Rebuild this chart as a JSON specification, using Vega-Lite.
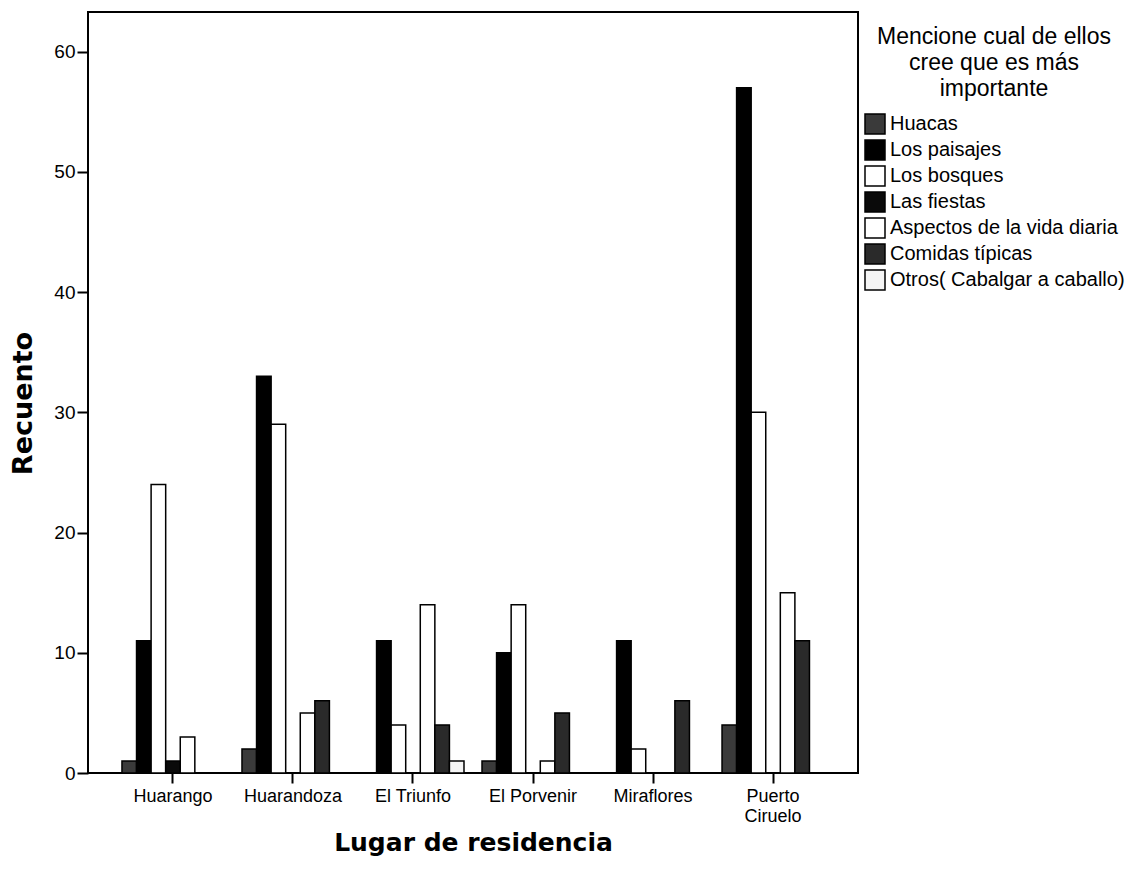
{
  "$schema": "https://vega.github.io/schema/vega-lite/v6.json",
  "width": 770,
  "height": 761,
  "autosize": {"type": "none"},
  "padding": {"left": 88, "top": 12, "right": 275, "bottom": 102},
  "background": "white",
  "config": {
    "view": {"stroke": "black", "strokeWidth": 2},
    "font": "Liberation Sans"
  },
  "data": {
    "values": [
      {"lugar": "Huarango", "cat": "Huacas", "n": 1},
      {"lugar": "Huarango", "cat": "Los paisajes", "n": 11},
      {"lugar": "Huarango", "cat": "Los bosques", "n": 24},
      {"lugar": "Huarango", "cat": "Las fiestas", "n": 1},
      {"lugar": "Huarango", "cat": "Aspectos de la vida diaria", "n": 3},
      {"lugar": "Huarandoza", "cat": "Huacas", "n": 2},
      {"lugar": "Huarandoza", "cat": "Los paisajes", "n": 33},
      {"lugar": "Huarandoza", "cat": "Los bosques", "n": 29},
      {"lugar": "Huarandoza", "cat": "Aspectos de la vida diaria", "n": 5},
      {"lugar": "Huarandoza", "cat": "Comidas típicas", "n": 6},
      {"lugar": "El Triunfo", "cat": "Los paisajes", "n": 11},
      {"lugar": "El Triunfo", "cat": "Los bosques", "n": 4},
      {"lugar": "El Triunfo", "cat": "Aspectos de la vida diaria", "n": 14},
      {"lugar": "El Triunfo", "cat": "Comidas típicas", "n": 4},
      {"lugar": "El Triunfo", "cat": "Otros( Cabalgar a caballo)", "n": 1},
      {"lugar": "El Porvenir", "cat": "Huacas", "n": 1},
      {"lugar": "El Porvenir", "cat": "Los paisajes", "n": 10},
      {"lugar": "El Porvenir", "cat": "Los bosques", "n": 14},
      {"lugar": "El Porvenir", "cat": "Aspectos de la vida diaria", "n": 1},
      {"lugar": "El Porvenir", "cat": "Comidas típicas", "n": 5},
      {"lugar": "Miraflores", "cat": "Los paisajes", "n": 11},
      {"lugar": "Miraflores", "cat": "Los bosques", "n": 2},
      {"lugar": "Miraflores", "cat": "Comidas típicas", "n": 6},
      {"lugar": "Puerto Ciruelo", "cat": "Huacas", "n": 4},
      {"lugar": "Puerto Ciruelo", "cat": "Los paisajes", "n": 57},
      {"lugar": "Puerto Ciruelo", "cat": "Los bosques", "n": 30},
      {"lugar": "Puerto Ciruelo", "cat": "Aspectos de la vida diaria", "n": 15},
      {"lugar": "Puerto Ciruelo", "cat": "Comidas típicas", "n": 11}
    ]
  },
  "mark": {"type": "bar", "stroke": "black", "strokeWidth": 1.5},
  "encoding": {
    "x": {
      "field": "lugar",
      "type": "nominal",
      "sort": ["Huarango", "Huarandoza", "El Triunfo", "El Porvenir", "Miraflores", "Puerto Ciruelo"],
      "scale": {"paddingInner": 0.15, "paddingOuter": 0.283},
      "axis": {
        "title": "Lugar de residencia",
        "titleFont": "DejaVu Sans",
        "titleFontWeight": "bold",
        "titleFontSize": 25,
        "titleColor": "black",
        "titlePadding": 5,
        "labelAngle": 0,
        "labelFontSize": 18,
        "labelColor": "black",
        "labelPadding": 4,
        "labelLineHeight": 20,
        "labelExpr": "datum.label == 'Puerto Ciruelo' ? ['Puerto', 'Ciruelo'] : datum.label",
        "tickColor": "black",
        "tickSize": 10,
        "tickWidth": 2,
        "domain": false
      }
    },
    "xOffset": {
      "field": "cat",
      "type": "nominal",
      "scale": {
        "domain": ["Huacas", "Los paisajes", "Los bosques", "Las fiestas", "Aspectos de la vida diaria", "Comidas típicas", "Otros( Cabalgar a caballo)"],
        "paddingInner": 0,
        "paddingOuter": 0
      }
    },
    "y": {
      "field": "n",
      "type": "quantitative",
      "scale": {"domain": [0, 63.3], "nice": false},
      "axis": {
        "title": "Recuento",
        "titleFont": "DejaVu Sans",
        "titleFontWeight": "bold",
        "titleFontSize": 27,
        "titleColor": "black",
        "titlePadding": 16,
        "titleY": 391,
        "values": [0, 10, 20, 30, 40, 50, 60],
        "labelFontSize": 19,
        "labelColor": "black",
        "labelPadding": 2,
        "tickColor": "black",
        "tickSize": 11,
        "tickWidth": 2,
        "grid": false,
        "domain": false
      }
    },
    "fill": {
      "field": "cat",
      "type": "nominal",
      "scale": {
        "domain": ["Huacas", "Los paisajes", "Los bosques", "Las fiestas", "Aspectos de la vida diaria", "Comidas típicas", "Otros( Cabalgar a caballo)"],
        "range": ["#3a3a3a", "#000000", "#ffffff", "#0a0a0a", "#ffffff", "#2a2a2a", "#f4f4f4"]
      },
      "legend": {
        "orient": "right",
        "offset": -8,
        "padding": 14,
        "title": ["Mencione cual de ellos", "cree que es más", "importante"],
        "titleFontSize": 23,
        "titleFontWeight": "normal",
        "titleColor": "black",
        "titleLineHeight": 26,
        "titleLimit": 400,
        "titleAnchor": "middle",
        "titleAlign": "center",
        "titlePadding": 12,
        "labelFontSize": 20,
        "labelColor": "black",
        "labelOffset": 4,
        "labelLimit": 300,
        "symbolType": "square",
        "symbolSize": 400,
        "symbolStrokeColor": "black",
        "symbolStrokeWidth": 1.5,
        "rowPadding": 0
      }
    }
  }
}
